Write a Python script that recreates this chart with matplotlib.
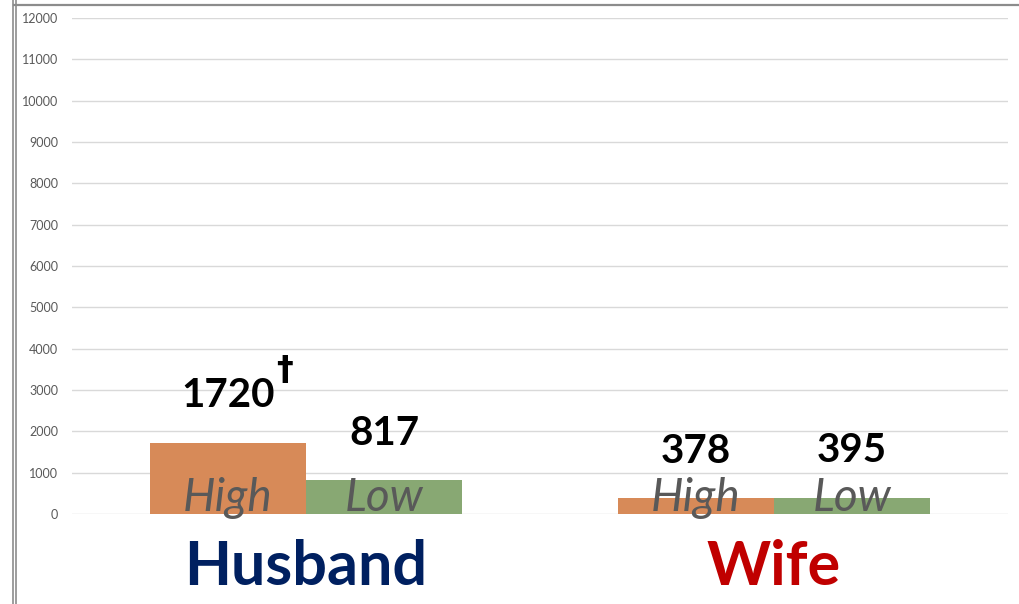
import matplotlib
matplotlib.use('Agg')
import matplotlib.pyplot as plt
from matplotlib.lines import Line2D
import numpy as np

groups = ['Husband', 'Wife']
group_colors = ['#002060', '#C00000']
series = ['High', 'Low']
series_colors = ['#D78A58', '#88A873']
high_vals = [1720, 378]
low_vals = [817, 395]
value_marks = [['\u2020', ''], ['', '']]
yticks = list(range(0, 13000, 1000))

fig = plt.figure(figsize=(10.19, 6.04), dpi=100)
ax = fig.add_axes([72/1019, 90/604, 936/1019, 496/604])

x = np.arange(len(groups))
w = 1/3.
vals = [high_vals, low_vals]
offsets = [-w/2, w/2]
for s in range(2):
    ax.bar(x + offsets[s], vals[s], width=w, color=series_colors[s], zorder=2)

ax.set_xlim(-0.5, 1.5)
ax.set_ylim(0, 12000)
ax.set_yticks(yticks)
ax.set_yticklabels([str(t) for t in yticks], fontsize=9, color='#595959', family='Lato')
ax.set_xticks([])
ax.tick_params(axis='y', length=0, pad=10)
ax.grid(axis='y', color='#d9d9d9', linewidth=1, zorder=0)
for sp in ax.spines.values():
    sp.set_visible(False)

# value labels, series labels inside bars
for s in range(2):
    for i in range(len(groups)):
        xc = x[i] + offsets[s]
        v = vals[s][i]
        ax.annotate(str(v), (xc, v), xytext=(0, 34), textcoords='offset points',
                    ha='center', va='center', fontsize=29, fontweight='bold',
                    family='Lato', color='black', zorder=4)
        if value_marks[i][s]:
            ax.annotate(value_marks[i][s], (xc, v), xytext=(41, 52), textcoords='offset points',
                        ha='center', va='center', fontsize=24, fontweight='bold',
                        family='DejaVu Sans', color='black', zorder=4)
        ax.annotate(series[s], (xc, 0), xytext=(0, 2), textcoords='offset points',
                    ha='center', va='baseline', fontsize=33, fontstyle='italic',
                    family='Lato', color='#595959', zorder=3)

for i in range(len(groups)):
    ax.annotate(groups[i], (x[i], 0), xytext=(0, -38), textcoords='offset points',
                ha='center', va='center', fontsize=44, fontweight='bold',
                family='Lato', color=group_colors[i], annotation_clip=False)

# outer frame lines
for xp in [13, 16]:
    fig.add_artist(Line2D([xp/1019, xp/1019], [0, 1], color='#8c8c8c', linewidth=1.2,
                          transform=fig.transFigure))
fig.add_artist(Line2D([14/1019, 1], [1 - 4.5/604, 1 - 4.5/604], color='#8c8c8c',
                      linewidth=1.6, transform=fig.transFigure))

fig.savefig('out.png', dpi=100)
